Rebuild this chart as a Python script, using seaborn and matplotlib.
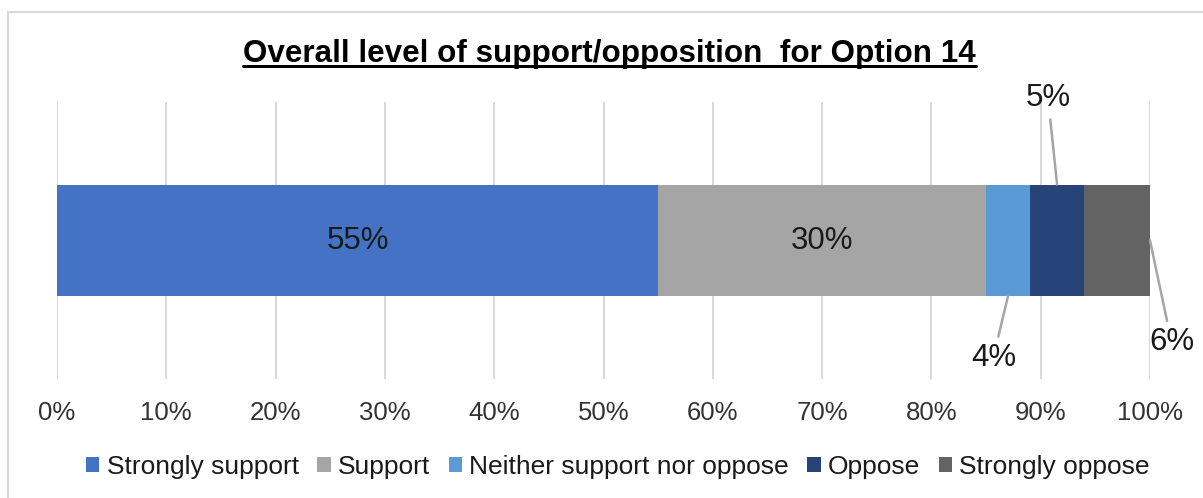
import matplotlib
matplotlib.use("Agg")
import matplotlib.pyplot as plt
import seaborn as sns
import numpy as np
from matplotlib.patches import Rectangle, Patch
from matplotlib.lines import Line2D

categories = ["Strongly support", "Support", "Neither support nor oppose", "Oppose", "Strongly oppose"]
values = [55, 30, 4, 5, 6]
colors = ["#4472C4", "#A5A5A5", "#5B9BD5", "#264478", "#636363"]
xticks = [0, 10, 20, 30, 40, 50, 60, 70, 80, 90, 100]
xtick_labels = [f"{t}%" for t in xticks]
title = "Overall level of support/opposition  for Option 14"
bar_name = "Option 14"

sns.set_theme(style="white")
plt.rcParams['font.family'] = ['Liberation Sans', 'DejaVu Sans']

fig = plt.figure(figsize=(12.03, 4.98), dpi=100)
ax = fig.add_axes([57/1203, 1-379/498, (1150-57)/1203, (379-102)/498])

lefts = np.concatenate([[0], np.cumsum(values)[:-1]])
handles = []
for cat, v, l, c in zip(categories, values, lefts, colors):
    sns.barplot(x=[v], y=[bar_name], orient="h", color=c, saturation=1,
                width=0.404, left=l, ax=ax, linewidth=0, zorder=2)
    handles.append(Patch(facecolor=c, edgecolor='none', label=cat))

ax.set_xlim(0, 100)
ax.set_ylim(0.5, -0.5)
ax.set_xticks(xticks)
ax.set_xticklabels(xtick_labels, fontsize=18.5, color="#333333")
ax.tick_params(axis='x', length=0, pad=16)
ax.set_yticks([])
ax.set_ylabel("")
ax.set_xlabel("")
for s in ax.spines.values():
    s.set_visible(False)
ax.xaxis.grid(True, color="#D9D9D9", linewidth=1.5)
ax.set_axisbelow(True)

mids = lefts + np.array(values) / 2.0
half = 0.404 / 2
# inside labels
for i in (0, 1):
    ax.text(mids[i], 0, f"{values[i]}%", ha='center', va='center', fontsize=22.5, color="#1a1a1a")

line_kw = dict(arrowstyle='-', color="#A5A5A5", lw=1.8, shrinkB=0, shrinkA=2)
# Neither (4%)
ax.annotate(f"{values[2]}%", xy=(mids[2], half), xytext=(-10.5, -44), textcoords='offset points',
            ha='center', va='center', fontsize=22.5, color="#1a1a1a", arrowprops=line_kw,
            annotation_clip=False)
# Oppose (5%)
ax.annotate(f"{values[3]}%", xy=(mids[3], -half), xytext=(-6.5, 62), textcoords='offset points',
            ha='center', va='center', fontsize=22.5, color="#1a1a1a", arrowprops=line_kw,
            annotation_clip=False)
# Strongly oppose (6%)
ax.annotate(f"{values[4]}%", xy=(lefts[4] + values[4], 0), xytext=(15.5, -73), textcoords='offset points',
            ha='center', va='center', fontsize=22.5, color="#1a1a1a", arrowprops=line_kw,
            annotation_clip=False)

# title
t = fig.text(609.5/1203, 1-62/498, title, ha='center', va='baseline', fontsize=22.6,
             fontweight='bold', color='black')

fig.legend(handles=handles, loc='center', bbox_to_anchor=(0.5137, 1-467/498), ncol=5,
           frameon=False, fontsize=19, handlelength=0.5, handleheight=0.5,
           handletextpad=0.28, columnspacing=0.7, labelcolor="#1a1a1a", borderpad=0)

# outer border
fig.patches.append(Rectangle((8/1203, -0.1), 1.2, 1.1 - 12/498, transform=fig.transFigure,
                             fill=False, edgecolor="#D9D9D9", linewidth=1.5, zorder=0))

fig.canvas.draw()
bb = t.get_window_extent()
uy = (498 - 66) / 498
fig.lines.append(Line2D([bb.x0 / fig.bbox.width, bb.x1 / fig.bbox.width], [uy, uy],
                        transform=fig.transFigure, color='black', linewidth=2.2))

fig.savefig("out.png", dpi=100)
